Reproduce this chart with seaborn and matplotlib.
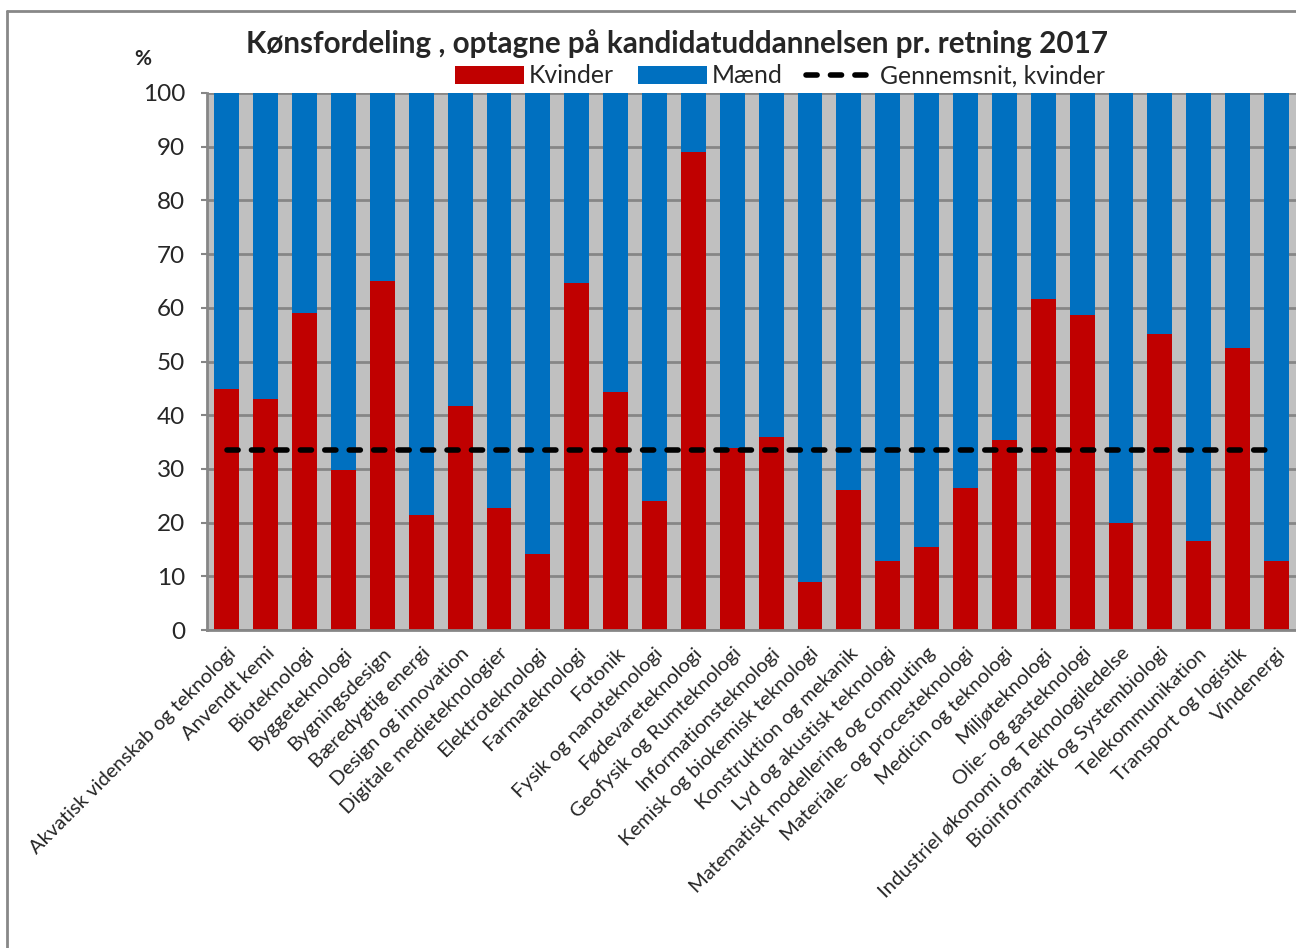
import matplotlib
matplotlib.use("Agg")
import matplotlib.pyplot as plt
import seaborn as sns
import pandas as pd

# data
retninger = [
    "Akvatisk videnskab og teknologi", "Anvendt kemi", "Bioteknologi", "Byggeteknologi",
    "Bygningsdesign", "Bæredygtig energi", "Design og innovation", "Digitale medieteknologier",
    "Elektroteknologi", "Farmateknologi", "Fotonik", "Fysik og nanoteknologi",
    "Fødevareteknologi", "Geofysik og Rumteknologi", "Informationsteknologi",
    "Kemisk og biokemisk teknologi", "Konstruktion og mekanik", "Lyd og akustisk teknologi",
    "Matematisk modellering og computing", "Materiale- og procesteknologi",
    "Medicin og teknologi", "Miljøteknologi", "Olie- og gasteknologi",
    "Industriel økonomi og Teknologiledelse", "Bioinformatik og Systembiologi",
    "Telekommunikation", "Transport og logistik", "Vindenergi",
]
kvinder = [44.9, 43.0, 59.0, 29.8, 65.0, 21.5, 41.7, 22.8, 14.1, 64.7, 44.4, 24.0,
           89.0, 33.9, 36.0, 9.0, 26.1, 12.8, 15.4, 26.4, 35.4, 61.6, 58.7, 19.9,
           55.2, 16.6, 52.6, 12.8]
total = [100] * len(retninger)   # kvinder + maend stacked to 100 %
gennemsnit_kvinder = 33.5

RED = "#C00000"
BLUE = "#0070C0"
GRID = "#868686"

sns.set_style("white")
plt.rcParams['font.family'] = ['Lato', 'DejaVu Sans']

df = pd.DataFrame({'retning': retninger, 'kvinder': kvinder, 'total': total,
                   'snit': [gennemsnit_kvinder] * len(retninger)})

fig = plt.figure(figsize=(12.96, 9.48), dpi=100)
ax = fig.add_axes([0.16, 0.3354, 0.84, 0.5665])
ax.set_facecolor("#C0C0C0")

# maend drawn as full column, kvinder on top of it
sns.barplot(data=df, x='retning', y='total', color=BLUE, width=0.64, saturation=1,
            linewidth=0, ax=ax, label='Mænd')
sns.barplot(data=df, x='retning', y='kvinder', color=RED, width=0.64, saturation=1,
            linewidth=0, ax=ax, label='Kvinder')
sns.lineplot(data=df, x='retning', y='snit', color='black', lw=4, ax=ax,
             label='Gennemsnit, kvinder', zorder=5)
ax.lines[-1].set_linestyle((0, (2.0, 2.4)))
ax.lines[-1].set_dash_capstyle('round')

ax.set_xlim(-0.5, len(retninger) - 0.5)
ax.set_ylim(0, 100)
ax.set_yticks(range(0, 101, 10))
ax.set_xlabel('')
ax.set_ylabel('')
ax.set_axisbelow(True)
ax.yaxis.grid(True, color=GRID, lw=2)
ax.xaxis.grid(False)

for s in ['top', 'right']:
    ax.spines[s].set_visible(False)
for s in ['left', 'bottom']:
    ax.spines[s].set_color(GRID)
    ax.spines[s].set_linewidth(2)

ax.tick_params(axis='y', left=True, length=4, width=1.5, color=GRID, pad=12, labelsize=17.5)
ax.tick_params(axis='x', bottom=False, pad=7, labelsize=14.5)
plt.setp(ax.get_xticklabels(), rotation=45, ha='right', rotation_mode='anchor')

ax.get_legend().remove()
handles, labels = ax.get_legend_handles_labels()
order = [labels.index('Kvinder'), labels.index('Mænd'), labels.index('Gennemsnit, kvinder')]
fig.legend([handles[i] for i in order], [labels[i] for i in order],
           loc='center', bbox_to_anchor=(0.602, 0.92), ncol=3, frameon=False,
           fontsize=17.8, handlelength=2.8, handleheight=0.75, handletextpad=0.2,
           columnspacing=0.95, borderpad=0)

fig.text(0.522, 0.954, 'Kønsfordeling , optagne på kandidatuddannelsen pr. retning 2017',
         ha='center', va='center', fontsize=21.3, fontweight='bold')
fig.text(0.110, 0.938, '%', ha='center', va='center', fontsize=15, fontweight='bold')

# chart frame
fig.add_artist(plt.Line2D([0.0055, 0.0055], [0, 0.9885], color='#888888', lw=2,
                          transform=fig.transFigure))
fig.add_artist(plt.Line2D([0.0055, 1.0], [0.9885, 0.9885], color='#888888', lw=2,
                          transform=fig.transFigure))

fig.savefig('out.png', dpi=100)
